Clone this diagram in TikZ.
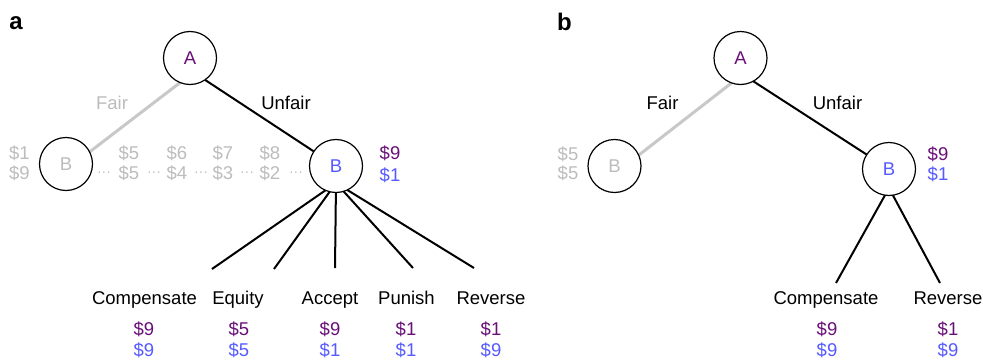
\documentclass[tikz,border=0pt]{standalone}
\usepackage{fontspec}
\setmainfont{Liberation Sans}
\usetikzlibrary{backgrounds}
\definecolor{pu}{RGB}{105,15,120}
\definecolor{bl}{RGB}{85,90,255}
\definecolor{gr}{RGB}{188,188,188}
\definecolor{grl}{RGB}{200,200,200}
\newcommand\myfs{\fontsize{18.5}{22}\selectfont}
\begin{document}
\begin{tikzpicture}[x=1pt,y=-1pt,
  circ/.style={circle,draw=black,line width=1.2pt,fill=white,minimum size=53pt,inner sep=0pt,font=\myfs,text height=13.3pt,text depth=0pt},
  txt/.style={font=\myfs,inner sep=0pt,text height=13.3pt,text depth=0pt},
  dots/.style={font=\fontsize{14}{16}\selectfont,inner sep=0pt,text=gr},
  plabel/.style={font=\bfseries\fontsize{24}{28}\selectfont,inner sep=0pt},
  edge/.style={line width=2pt,black},
  fedge/.style={line width=3pt,grl}]
\useasboundingbox (0,0) rectangle (983,359);

% ---------- panel a ----------
\node[plabel] (la) at (16,23.5) {a};
\node[circ] (aA) at (190,58) {\color{pu}A};
\node[circ] (aB1) at (66,164) {\color{gr}B};
\node[circ] (aB2) at (336,166) {\color{bl}B};
\coordinate (ae1) at (212,269);
\coordinate (ae2) at (274,269);
\coordinate (ae3) at (335,268);
\coordinate (ae4) at (413,268);
\coordinate (ae5) at (474,268);
\begin{scope}[on background layer]
  \draw[fedge] ([yshift=-17pt]aA.center) -- ([yshift=-6pt]aB1.center);
  \draw[edge] ([yshift=-12pt]aA.center) -- (aB2.center);
  \foreach \e in {ae1,ae2,ae3,ae4,ae5}
    \draw[edge] ([yshift=-17pt]aB2.center) -- (\e);
\end{scope}
\node[txt,text=gr] (afair) at (112,103) {Fair};
\node[txt] (aunfair) at (286,103) {Unfair};
\node[txt,text=gr] (ag1a) at (19.5,153) {\$1};
\node[txt,text=gr] (ag1b) at (19.5,173) {\$9};
\node[txt,text=gr] (ag2a) at (129,153) {\$5};
\node[txt,text=gr] (ag2b) at (129,173) {\$5};
\node[txt,text=gr] (ag3a) at (177,153) {\$6};
\node[txt,text=gr] (ag3b) at (177,173) {\$4};
\node[txt,text=gr] (ag4a) at (223,153) {\$7};
\node[txt,text=gr] (ag4b) at (223,173) {\$3};
\node[txt,text=gr] (ag5a) at (270,153) {\$8};
\node[txt,text=gr] (ag5b) at (270,173) {\$2};
\node[dots] (ad1) at (104,174) {···};
\node[dots] (ad2) at (154,174) {···};
\node[dots] (ad3) at (201,174) {···};
\node[dots] (ad4) at (247,174) {···};
\node[dots] (ad5) at (296,174) {···};
\node[txt,text=pu] (arv1) at (390,153) {\$9};
\node[txt,text=bl] (arv2) at (390,175) {\$1};
\node[txt] (ac1) at (144.5,298) {Compensate};
\node[txt] (ac2) at (238,298) {Equity};
\node[txt] (ac3) at (330,298) {Accept};
\node[txt] (ac4) at (406.5,298) {Punish};
\node[txt] (ac5) at (491,298) {Reverse};
\node[txt,text=pu] (ap1) at (144,329) {\$9};
\node[txt,text=pu] (ap2) at (239,329) {\$5};
\node[txt,text=pu] (ap3) at (330,329) {\$9};
\node[txt,text=pu] (ap4) at (406,329) {\$1};
\node[txt,text=pu] (ap5) at (491,329) {\$1};
\node[txt,text=bl] (ab1) at (144,349.5) {\$9};
\node[txt,text=bl] (ab2) at (239,349.5) {\$5};
\node[txt,text=bl] (ab3) at (330,349.5) {\$1};
\node[txt,text=bl] (ab4) at (406,349.5) {\$1};
\node[txt,text=bl] (ab5) at (491,349.5) {\$9};

% ---------- panel b ----------
\node[plabel] (lb) at (564.5,21.5) {b};
\node[circ] (bA) at (740.5,58) {\color{pu}A};
\node[circ] (bB1) at (614.5,166) {\color{gr}B};
\node[circ] (bB2) at (889,169) {\color{bl}B};
\coordinate (be1) at (836,283);
\coordinate (be2) at (940,283);
\begin{scope}[on background layer]
  \draw[fedge] ([yshift=-18pt]bA.center) -- ([yshift=-8pt]bB1.center);
  \draw[edge] ([yshift=-15pt]bA.center) -- (bB2.center);
  \draw[edge] ([yshift=-19pt]bB2.center) -- (be1);
  \draw[edge] ([yshift=-19pt]bB2.center) -- (be2);
\end{scope}
\node[txt] (bfair) at (662.5,103) {Fair};
\node[txt] (bunfair) at (837.5,103) {Unfair};
\node[txt,text=gr] (bg1) at (568,154) {\$5};
\node[txt,text=gr] (bg2) at (568,173) {\$5};
\node[txt,text=pu] (brv1) at (938,154) {\$9};
\node[txt,text=bl] (brv2) at (938,174) {\$1};
\node[txt] (bc1) at (826,298) {Compensate};
\node[txt] (bc2) at (948,298) {Reverse};
\node[txt,text=pu] (bp1) at (827,329) {\$9};
\node[txt,text=pu] (bp2) at (948,329) {\$1};
\node[txt,text=bl] (bb1) at (827,349.5) {\$9};
\node[txt,text=bl] (bb2) at (948,349.5) {\$9};
\end{tikzpicture}
\end{document}
